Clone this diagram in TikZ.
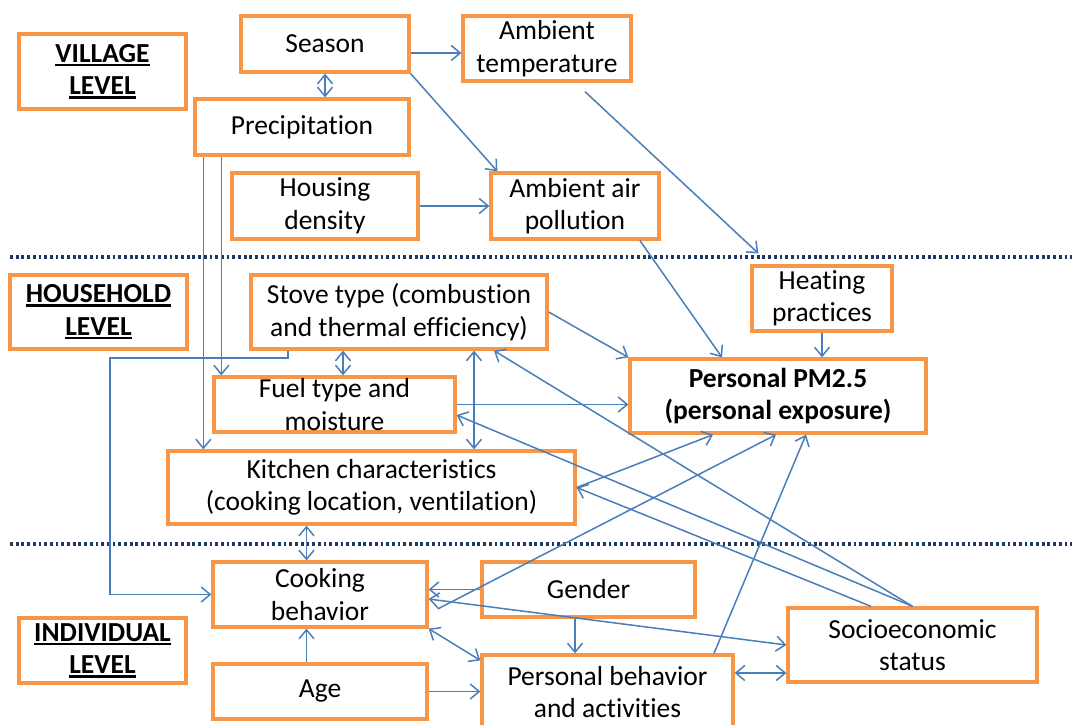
\documentclass[tikz,border=0pt]{standalone}
\usepackage{fontspec}
\setmainfont{Carlito}[Ligatures={NoCommon,NoRequired,NoContextual}]
\usetikzlibrary{arrows.meta}
\definecolor{boxorange}{HTML}{F79646}
\definecolor{linkblue}{HTML}{4A7EBB}
\definecolor{levelnavy}{HTML}{1F3864}
\newcommand\thickul[1]{\setbox0\hbox{#1}\rlap{\rule[-4pt]{\wd0}{2.4pt}}\box0}
\begin{document}
\begin{tikzpicture}[x=1pt,y=-1pt,
  box/.style={draw=boxorange, line width=3.3pt, rectangle, align=center, inner sep=0pt,
    text=black, font=\fontsize{27.5}{32.5}\selectfont},
  arr/.style={draw=linkblue, line width=1.5pt, -{Straight Barb[length=9pt,width=15pt]}},
  darr/.style={draw=linkblue, line width=1.5pt, {Straight Barb[length=9pt,width=15pt]}-{Straight Barb[length=9pt,width=15pt]}},
  levelline/.style={draw=levelnavy, line width=3.2pt, dash pattern=on 2.8pt off 2.9pt}]
\useasboundingbox (0,0) rectangle (1072,725);

% level separators
\coordinate (l1a) at (10,257);
\coordinate (l1b) at (1072,257);
\coordinate (l2a) at (10,544);
\coordinate (l2b) at (1072,544);
\draw[levelline] (l1a) -- (l1b);
\draw[levelline] (l2a) -- (l2b);

% level labels
\node[box, minimum width=167pt, minimum height=75pt] (village) at (102.5,71.5) {\bfseries\thickul{VILLAGE}\\\bfseries\thickul{LEVEL}};
\node[box, minimum width=177pt, minimum height=74pt] (household) at (98.5,312) {\bfseries\thickul{HOUSEHOLD}\\\bfseries\thickul{LEVEL}};
\node[box, minimum width=167pt, minimum height=65pt] (individual) at (102.5,650.5) {\bfseries\thickul{INDIVIDUAL}\\\bfseries\thickul{LEVEL}};

% village level
\node[box, minimum width=168pt, minimum height=56pt] (season) at (325,44) {Season};
\node[box, minimum width=168pt, minimum height=65pt] (ambtemp) at (547,48.5) {Ambient\\temperature};
\node[box, minimum width=214pt, minimum height=56pt] (precip) at (302,127) {Precipitation};
\node[box, minimum width=186pt, minimum height=66pt] (housing) at (325,206) {Housing\\density};
\node[box, minimum width=168pt, minimum height=66pt] (ambair) at (575,206) {Ambient air\\pollution};

% household level
\node[box, minimum width=296pt, minimum height=74pt] (stove) at (399,312) {Stove type (combustion\\and thermal efficiency)};
\node[box, minimum width=140pt, minimum height=65pt] (heat) at (822,298.5) {Heating\\practices};
\node[box, minimum width=296pt, minimum height=74pt] (pm) at (778,396) {\bfseries Personal PM2.5\\\bfseries (personal exposure)};
\node[box, minimum width=241pt, minimum height=55pt] (fuel) at (334.5,404.5) {Fuel type and\\moisture};
\node[box, minimum width=407pt, minimum height=73pt] (kitchen) at (371.5,487.5) {Kitchen characteristics\\(cooking location, ventilation)};

% individual level
\node[box, minimum width=214pt, minimum height=65pt] (cooking) at (320,594.5) {Cooking\\behavior};
\node[box, minimum width=213pt, minimum height=55pt] (gender) at (588.5,589.5) {Gender};
\node[box, minimum width=214pt, minimum height=55pt] (age) at (320,691.5) {Age};
\node[box, minimum width=251pt, minimum height=74pt] (pers) at (607.5,692) {Personal behavior\\and activities};
\node[box, minimum width=249pt, minimum height=74pt] (socio) at (912.5,645) {Socioeconomic\\status};

% helper coordinates on box edges
\coordinate (seasonR) at ([yshift=-9pt]season.east);
\coordinate (tempS) at ([shift={(38pt,-9pt)}]ambtemp.south);
\coordinate (heatIn) at ([shift={(8pt,11pt)}]heat.north west);
\coordinate (precA) at ([xshift=10pt]precip.south west);
\coordinate (precB) at ([xshift=28pt]precip.south west);
\coordinate (stoveA) at ([xshift=-111pt]stove.south);
\coordinate (bend) at (110,358);
\coordinate (stoveB) at ([xshift=-56pt]stove.south);
\coordinate (stoveC) at ([xshift=75pt]stove.south);
\coordinate (stoveD) at ([xshift=95pt]stove.south);
\coordinate (fuelIn) at ([yshift=-10.5pt]fuel.east);
\coordinate (cookN) at ([xshift=-13.5pt]cooking.north);
\coordinate (ageN) at ([xshift=-13.5pt]age.north);
\coordinate (genS) at ([xshift=-13.5pt]gender.south);
\coordinate (cookOut) at ([shift={(9pt,-14.5pt)}]cooking.east);
\coordinate (cookSoc) at ([yshift=-4.5pt]cooking.east);
\coordinate (persIn) at ([yshift=-7pt]pers.north west);
\coordinate (socW) at ([yshift=-28pt]socio.west);
\coordinate (persN) at ([xshift=106.5pt]pers.north);
\coordinate (socA) at ([xshift=-41.5pt]socio.north);

% village connectors
\draw[arr] (seasonR) -- (seasonR -| ambtemp.west);
\draw[darr] (season.south) -- (precip.north -| season.south);
\draw[arr] (season.south east) -- ([xshift=8pt]ambair.north west);
\draw[arr] (tempS) -- (heatIn);
\draw[arr] (housing.east) -- (ambair.west);
\draw[arr] ([xshift=65pt]ambair.south) -- ([xshift=-56pt]pm.north);
\draw[arr] (precA) -- (precA |- kitchen.north);
\draw[arr] (precB) -- (precB |- fuel.north);

% household connectors
\draw[arr] (heat.south) -- (heat.south |- pm.north);
\draw[arr] (stoveA) |- (bend) |- (cooking.west);
\draw[darr] (stoveB) -- (stoveB |- fuel.north);
\draw[darr] (stoveC) -- (stoveC |- kitchen.north);
\draw[arr] (stove.east) -- (pm.north west);
\draw[arr] (fuel.east) -- (fuel.east -| pm.west);
\draw[arr] (kitchen.east) -- ([xshift=-65pt]pm.south);
\draw[darr] (cookN) -- (cookN |- kitchen.south);

% individual connectors
\draw[arr] (socA) -- (kitchen.east);
\draw[arr] (socio.north) -- (fuelIn);
\draw[arr] (socio.north) -- (stoveD);
\draw[arr] (ageN) -- (ageN |- cooking.south);
\draw[arr] (age.east) -- (age.east -| pers.west);
\draw[arr] (genS) -- (genS |- pers.north);
\draw[arr] (gender.west) -- (gender.west -| cooking.east);
\draw[arr] (cookOut) -- ([xshift=-2pt]pm.south);
\draw[darr] (cookSoc) -- (socio.west);
\draw[darr] (cooking.south east) -- (persIn);
\draw[darr] (socW -| pers.east) -- (socW);
\draw[arr] (persN) -- ([xshift=28pt]pm.south);
\end{tikzpicture}
\end{document}
